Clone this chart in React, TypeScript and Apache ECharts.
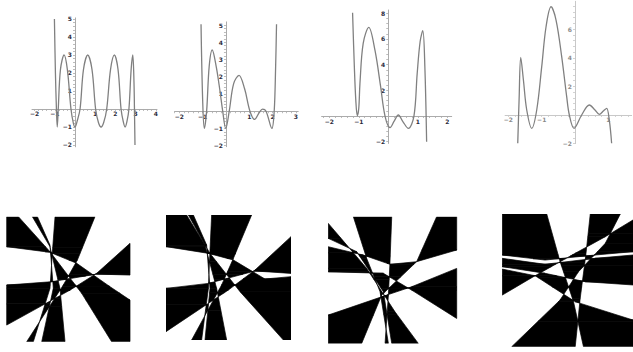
import React, { useEffect, useRef } from "react";
import * as echarts from "echarts";

// ---------- top row: four function plots ----------
const P1_X = [-1.02, -0.97, -0.92, -0.88, -0.83, -0.72, -0.54, -0.38, -0.2, -0.08, 0.0, 0.1, 0.25, 0.42, 0.63, 0.84, 1.02, 1.16, 1.29, 1.42, 1.57, 1.76, 1.95, 2.13, 2.28, 2.39, 2.48, 2.57, 2.67, 2.78, 2.86, 2.92, 2.95, 2.97];
const P1_Y = [5, 2, 0, -1, 0, 2.2, 3, 2.2, 0, -0.8, -1, -0.7, 0, 2.2, 3, 2.2, 0, -0.75, -1, -0.75, 0, 2.2, 3, 2.2, 0, -0.7, -1, -0.7, 0, 2.2, 3, 1.5, -0.5, -2];

const P2_X = [-1.07, -1.0, -0.93, -0.83, -0.72, -0.59, -0.42, -0.26, -0.14, -0.01, 0.14, 0.33, 0.56, 0.8, 1.03, 1.23, 1.42, 1.57, 1.72, 1.97, 2.07, 2.13, 2.17];
const P2_Y = [5.05, 0.65, -1.0, 0, 2.6, 3.55, 2.6, 1.2, 0, -1.0, 0, 1.6, 2.08, 1.3, 0, -0.48, -0.1, 0.12, 0, -1.0, 0, 2.5, 5.05];

const P3_X = [-1.21, -1.15, -1.1, -1.05, -1.0, -0.96, -0.85, -0.66, -0.45, -0.26, -0.11, 0.06, 0.2, 0.34, 0.5, 0.68, 0.87, 0.98, 1.08, 1.17, 1.24, 1.3];
const P3_Y = [8.04, 3.84, 1.2, 0.02, 0.6, 2.54, 5.66, 6.9, 5.1, 2.3, 0, -0.9, -0.4, 0.08, -0.45, -0.96, 0, 3.3, 5.8, 6.64, 3.84, -2.0];

const P4_X = [-1.72, -1.68, -1.63, -1.55, -1.45, -1.3, -1.15, -1.0, -0.87, -0.72, -0.57, -0.4, -0.25, -0.17, -0.03, 0.2, 0.43, 0.6, 0.73, 0.86, 0.95, 1.03, 1.1];
const P4_Y = [-1.98, 1.05, 4.03, 2.45, 0.35, -0.93, 0.35, 3.38, 6.17, 7.57, 6.64, 4.08, 1.28, 0, -0.93, 0, 0.7, 0.35, 0.05, 0.3, 0.47, -0.35, -1.98];

const X_LABELS = [
  [-2, -1, 1, 2, 3, 4],
  [-2, -1, 1, 2, 3],
  [-2, -1, 1, 2],
  [-2, -1, 1],
];
const Y_LABELS = [
  [-2, -1, 1, 2, 3, 4, 5],
  [-2, -1, 1, 2, 3, 4, 5],
  [-2, 2, 4, 6, 8],
  [-2, 2, 4, 6],
];

// ---------- bottom row: curve arrangements (u,v in 0..100, v downward) ----------
type Pt = [number, number];
const ARR1: Pt[][] = [
  [[9.5, 0], [35.1, 28], [60.8, 61.3], [85.1, 100]],
  [[20.8, 0], [35.1, 24], [43.2, 57.3], [47.3, 100]],
  [[24.9, 0], [35.1, 22.7], [37.8, 57.3], [28.4, 100]],
  [[39.2, 0], [37.3, 24.8], [35.1, 57.3], [21.6, 100]],
  [[71.6, 0], [57.3, 34.7], [45.9, 54.7], [16.2, 100]],
  [[100, 21.3], [73, 45.3], [51.4, 58.7], [0, 86.7]],
  [[100, 46.7], [73, 45.9], [36.5, 52], [0, 54.7]],
  [[100, 66.7], [83.8, 56], [56.8, 37.3], [35.1, 28.5], [0, 24]],
];
const ARR2: Pt[][] = [
  [[16.5, 0], [35.2, 30.7], [59.2, 61.3], [93.9, 100]],
  [[17.9, 0], [31.2, 24], [40.5, 58.7], [48.5, 100]],
  [[21.9, 0], [32.5, 24], [35.2, 58.7], [31.2, 100]],
  [[36.5, 0], [35.2, 28], [33.9, 58.7], [28.5, 100]],
  [[68.5, 0], [53.9, 34.7], [44.5, 56], [20.5, 100]],
  [[100, 17.3], [71.2, 44], [49.9, 60], [0, 93.3]],
  [[100, 46.7], [71.2, 44.8], [33.9, 54.7], [0, 58.7]],
  [[100, 49.3], [79.2, 51.2], [53.9, 36], [33.9, 30.7], [0, 25.3]],
];
const ARR3: Pt[][] = [
  [[0, 23.7], [27.3, 30.3], [48, 37.6], [68.8, 35.5], [100, 26.3]],
  [[84.4, 0], [68.8, 35.5], [41.6, 61.8], [26, 100]],
  [[19.5, 0], [29.9, 32.9], [40.3, 59.2], [46.8, 100]],
  [[49.4, 0], [48, 36.8], [46.8, 61.8], [44.2, 100]],
  [[100, 40.8], [64.9, 55.3], [41.6, 63.2], [0, 77.6]],
  [[100, 80.3], [64.9, 57.9], [42.9, 44.7], [0, 43.4]],
  [[70.1, 100], [51.9, 75], [29.9, 40.8], [0, 5.3]],
  [[0, 17.1], [22.1, 27.6], [42.9, 59.2], [49.4, 100]],
];
const ARR4: Pt[][] = [
  [[34, 0], [44.2, 35.9], [54.5, 66.1], [62.1, 100]],
  [[67.3, 0], [63.9, 30.9], [59.6, 63.6], [55.8, 100]],
  [[90.3, 0], [78.8, 22.1], [58.3, 43.5], [44.2, 64.8], [7.2, 100]],
  [[0, 61.1], [25.1, 46.5], [55.8, 29.6], [78.8, 17.1], [100, 4.5]],
  [[0, 41.5], [25.1, 46.5], [55.8, 66.1], [100, 79.9]],
  [[100, 53.5], [63.4, 51], [32.7, 44.7], [0, 39.7]],
  [[100, 30.9], [71.1, 33.4], [32.7, 37.9], [0, 33.4]],
  [[100, 28.4], [71.1, 30.9], [32.7, 34.7], [0, 30.9]],
];
const BLACK_AT: Pt[] = [
  [2, 2],
  [2, 2],
  [33, 2],
  [5, 5],
];

function perim(p: Pt) {
  const [u, v] = p;
  if (v <= 1e-6) return u / 100;
  if (u >= 100 - 1e-6) return 1 + v / 100;
  if (v >= 100 - 1e-6) return 2 + (100 - u) / 100;
  return 3 + (100 - v) / 100;
}
const CORNERS: Pt[] = [[0, 0], [100, 0], [100, 100], [0, 100]];
function regionPoly(curve: Pt[]): Pt[] {
  const ts = perim(curve[0]);
  const te = perim(curve[curve.length - 1]);
  let end = ts;
  if (end <= te) end += 4;
  const out: Pt[] = curve.slice();
  for (let c = 1; c <= 8; c++) {
    if (c > te && c < end) out.push(CORNERS[c % 4]);
  }
  return out;
}
function inside(p: Pt, poly: Pt[]) {
  let r = false;
  for (let i = 0, j = poly.length - 1; i < poly.length; j = i++) {
    const [xi, yi] = poly[i];
    const [xj, yj] = poly[j];
    if (yi > p[1] !== yj > p[1] && p[0] < ((xj - xi) * (p[1] - yi)) / (yj - yi) + xi) r = !r;
  }
  return r;
}
// black faces of the 2-colouring, as trapezoids merged along unchanged edge pairs
function blackTraps(curves: Pt[][], ref: Pt): Pt[][] {
  const polys = curves.map(regionPoly);
  const parity = (p: Pt) => polys.reduce((a, poly) => a ^ (inside(p, poly) ? 1 : 0), 0);
  const target = parity(ref);
  const segs: [Pt, Pt][] = [];
  curves.forEach((c) => {
    for (let i = 0; i + 1 < c.length; i++) segs.push([c[i], c[i + 1]]);
  });
  const ys = new Set<number>([0, 100]);
  curves.forEach((c) => c.forEach((p) => ys.add(p[1])));
  for (let i = 0; i < segs.length; i++) {
    for (let j = i + 1; j < segs.length; j++) {
      const [a, b] = segs[i];
      const [c, d] = segs[j];
      const den = (b[0] - a[0]) * (d[1] - c[1]) - (b[1] - a[1]) * (d[0] - c[0]);
      if (Math.abs(den) < 1e-12) continue;
      const t = ((c[0] - a[0]) * (d[1] - c[1]) - (c[1] - a[1]) * (d[0] - c[0])) / den;
      const s = ((c[0] - a[0]) * (b[1] - a[1]) - (c[1] - a[1]) * (b[0] - a[0])) / den;
      if (t > 1e-9 && t < 1 - 1e-9 && s > 1e-9 && s < 1 - 1e-9) ys.add(a[1] + t * (b[1] - a[1]));
    }
  }
  const Y = Array.from(ys).filter((y) => y >= 0 && y <= 100).sort((p, q) => p - q);
  const xOf = (id: number, y: number) => {
    if (id === -1) return 0;
    if (id === -2) return 100;
    const [a, b] = segs[id];
    return a[0] + ((b[0] - a[0]) * (y - a[1])) / (b[1] - a[1]);
  };
  type Open = { l: number; r: number; y0: number; y1: number };
  let open = new Map<string, Open>();
  const done: Open[] = [];
  for (let k = 0; k + 1 < Y.length; k++) {
    const y0 = Y[k];
    const y1 = Y[k + 1];
    if (y1 - y0 < 1e-7) continue;
    const ym = (y0 + y1) / 2;
    const ids: number[] = [-1, -2];
    segs.forEach(([a, b], si) => {
      const lo = Math.min(a[1], b[1]);
      const hi = Math.max(a[1], b[1]);
      if (hi - lo < 1e-9 || lo > ym || hi < ym) return;
      ids.push(si);
    });
    ids.sort((p, q) => xOf(p, ym) - xOf(q, ym));
    const next = new Map<string, Open>();
    for (let i = 0; i + 1 < ids.length; i++) {
      const l = ids[i];
      const r = ids[i + 1];
      const xl = xOf(l, ym);
      const xr = xOf(r, ym);
      if (xr - xl < 1e-6) continue;
      const mx = (xl + xr) / 2;
      if (mx <= 0 || mx >= 100) continue;
      if (parity([mx, ym]) !== target) continue;
      const key = l + "|" + r;
      const prev = open.get(key);
      if (prev && Math.abs(prev.y1 - y0) < 1e-9) {
        prev.y1 = y1;
        next.set(key, prev);
        open.delete(key);
      } else {
        next.set(key, { l, r, y0, y1 });
      }
    }
    open.forEach((o) => done.push(o));
    open = next;
  }
  open.forEach((o) => done.push(o));
  return done.map((o) => [
    [xOf(o.l, o.y0), o.y0],
    [xOf(o.r, o.y0), o.y0],
    [xOf(o.r, o.y1), o.y1],
    [xOf(o.l, o.y1), o.y1],
  ] as Pt[]);
}

function range(a: number, b: number, s: number) {
  const r: number[] = [];
  for (let v = a; v <= b + 1e-9; v += s) r.push(Math.round(v * 1000) / 1000);
  return r;
}

const TOP_GRIDS = [
  { left: 32.0, top: 17.9, width: 125.0, height: 128.9, x: [-2.13, 4.06], y: [-2.1, 5.06], xs: 0.2, ys: 0.2 },
  { left: 174.7, top: 21.9, width: 123.5, height: 124.8, x: [-2.2, 3.1], y: [-2.06, 5.18], xs: 0.2, ys: 0.2 },
  { left: 321.6, top: 10.0, width: 130.1, height: 133.4, x: [-2.26, 2.15], y: [-2.13, 8.25], xs: 0.2, ys: 0.4 },
  { left: 505.1, top: 1.3, width: 126.5, height: 142.3, x: [-2.1, 1.7], y: [-2.0, 7.95], xs: 0.2, ys: 0.4 },
];
const BOTTOM_GRIDS = [
  { left: 6.7, top: 216.7, width: 123.3, height: 125 },
  { left: 166, top: 215, width: 125, height: 125 },
  { left: 328.3, top: 216.7, width: 128.4, height: 126.7 },
  { left: 502.3, top: 214, width: 130.7, height: 132.7 },
];

export default function App() {
  const ref = useRef<HTMLDivElement>(null);
  useEffect(() => {
    if (!ref.current) return;
    const chart = echarts.init(ref.current, null, { renderer: "svg" });
    const curves = [
      P1_X.map((x, i) => [x, P1_Y[i]]),
      P2_X.map((x, i) => [x, P2_Y[i]]),
      P3_X.map((x, i) => [x, P3_Y[i]]),
      P4_X.map((x, i) => [x, P4_Y[i]]),
    ];
    const arrs = [ARR1, ARR2, ARR3, ARR4];
    const fmt = (v: number) => (v < 0 ? "\u2212" + Math.abs(v) : String(v));
    const grid: any[] = [];
    const xAxis: any[] = [];
    const yAxis: any[] = [];
    const series: any[] = [];
    TOP_GRIDS.forEach((g, i) => {
      const faint = i === 3;
      const ac = faint ? "#c8c8c8" : "#ababab";
      const lc = faint ? "#8a8a8a" : "#2a2a3a";
      const xOff = -((0 - g.y[0]) / (g.y[1] - g.y[0])) * g.height;
      const yOff = -((0 - g.x[0]) / (g.x[1] - g.x[0])) * g.width;
      grid.push({ left: g.left, top: g.top, width: g.width, height: g.height, containLabel: false, outerBoundsMode: "none" });
      xAxis.push({
        type: "value", gridIndex: i, min: g.x[0], max: g.x[1], position: "bottom", offset: xOff,
        axisLine: { onZero: false, lineStyle: { color: ac, width: 1 } },
        axisTick: { show: true, customValues: range(Math.ceil(g.x[0] / g.xs) * g.xs, g.x[1], g.xs), length: 2, lineStyle: { color: ac, width: 0.8 } },
        axisLabel: { customValues: X_LABELS[i], formatter: fmt, fontSize: 6, fontWeight: "bold", color: lc, margin: 2, fontFamily: "DejaVu Sans" },
        splitLine: { show: false },
      });
      yAxis.push({
        type: "value", gridIndex: i, min: g.y[0], max: g.y[1], position: "left", offset: yOff,
        axisLine: { onZero: false, lineStyle: { color: ac, width: 1 } },
        axisTick: { show: true, customValues: range(Math.ceil(g.y[0] / g.ys) * g.ys, g.y[1], g.ys), length: 2, lineStyle: { color: ac, width: 0.8 } },
        axisLabel: { customValues: Y_LABELS[i], formatter: fmt, fontSize: 6, fontWeight: "bold", color: lc, margin: 3, fontFamily: "DejaVu Sans" },
        splitLine: { show: false },
      });
      series.push({
        type: "line", xAxisIndex: i, yAxisIndex: i, data: curves[i], smooth: 0.35,
        showSymbol: false, symbol: "none", clip: true,
        lineStyle: { color: "#808080", width: 1.3 }, silent: true,
      });
    });
    BOTTOM_GRIDS.forEach((g, k) => {
      const idx = 4 + k;
      grid.push({ left: g.left, top: g.top, width: g.width, height: g.height, containLabel: false, outerBoundsMode: "none" });
      xAxis.push({ type: "value", gridIndex: idx, min: 0, max: 100, show: false });
      yAxis.push({ type: "value", gridIndex: idx, min: 0, max: 100, inverse: true, show: false });
      const traps = blackTraps(arrs[k], BLACK_AT[k]);
      series.push({
        type: "custom", coordinateSystem: "cartesian2d", xAxisIndex: idx, yAxisIndex: idx,
        data: traps.map(() => [50, 50]), silent: true, clip: true,
        renderItem: (params: any, api: any) => ({
          type: "polygon",
          shape: { points: traps[params.dataIndex].map((p) => api.coord(p)) },
          style: { fill: "#000", stroke: "#000", lineWidth: 0.7, lineJoin: "round" },
        }),
      });
    });
    chart.setOption({ animation: false, backgroundColor: "#fff", grid, xAxis, yAxis, series });
    return () => chart.dispose();
  }, []);
  return <div ref={ref} style={{ position: "fixed", left: 0, top: 0, width: 633, height: 352 }} />;
}
